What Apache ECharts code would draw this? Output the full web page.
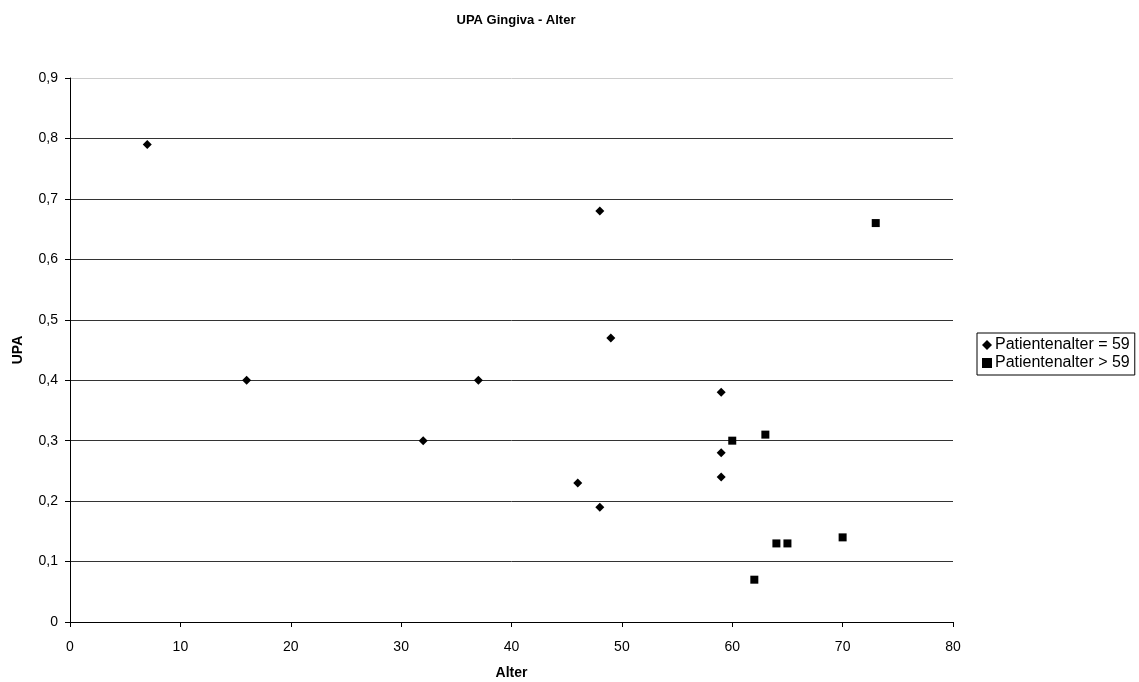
<!DOCTYPE html>
<html>
<head>
<meta charset="utf-8">
<script src="https://cdn.jsdelivr.net/npm/echarts@6/dist/echarts.min.js"></script>
<style>
  html, body { margin: 0; padding: 0; background: #fff; }
  #chart { width: 1139px; height: 682px; }
</style>
</head>
<body>
<div id="chart"></div>
<script>
var seriesNames = ['Patientenalter = 59', 'Patientenalter > 59'];
var ageUpTo59 = [7, 16, 32, 37, 46, 48, 48, 49, 59, 59, 59];
var upaUpTo59 = [0.79, 0.40, 0.30, 0.40, 0.23, 0.68, 0.19, 0.47, 0.38, 0.28, 0.24];
var ageOver59 = [60, 62, 63, 64, 65, 70, 73];
var upaOver59 = [0.30, 0.07, 0.31, 0.13, 0.13, 0.14, 0.66];

function pairs(xs, ys) {
  var out = [];
  for (var i = 0; i < xs.length; i++) out.push([xs[i], ys[i]]);
  return out;
}

var myChart = echarts.init(document.getElementById('chart'));
var font = 'Arial, "Liberation Sans", sans-serif';

// gridlines dark, the top one (0,9) light gray
var gridColors = ['#333', '#333', '#333', '#333', '#333', '#333', '#333', '#333', '#333', '#ccc'];

var option = {
  animation: false,
  textStyle: { fontFamily: font },
  title: {
    text: 'UPA Gingiva - Alter',
    left: 511,
    textAlign: 'center',
    top: 9,
    textStyle: { fontSize: 13, fontWeight: 'bold', color: '#000', fontFamily: font }
  },
  legend: {
    orient: 'vertical',
    left: 977,
    top: 333,
    padding: [4, 5, 4, 5],
    itemGap: 2,
    itemWidth: 10,
    itemHeight: 10,
    borderColor: '#000',
    borderWidth: 1,
    textStyle: { fontSize: 16, color: '#000', fontFamily: font, padding: [0, 0, 0, -2] },
    data: [
      { name: seriesNames[0], icon: 'diamond' },
      { name: seriesNames[1], icon: 'rect' }
    ]
  },
  grid: { left: 70, right: 186, top: 78, bottom: 60, outerBoundsMode: 'none', containLabel: false },
  xAxis: {
    type: 'value',
    min: 0, max: 80, interval: 10,
    name: 'Alter',
    nameLocation: 'middle',
    nameGap: 44,
    nameTextStyle: { fontWeight: 'bold', fontSize: 14, color: '#000' },
    axisLine: { lineStyle: { color: '#000' } },
    axisTick: { show: true, length: 5, lineStyle: { color: '#000' } },
    axisLabel: { color: '#000', fontSize: 14, margin: 18 },
    splitLine: { show: false }
  },
  yAxis: {
    type: 'value',
    min: 0, max: 0.9, interval: 0.1,
    name: 'UPA',
    nameLocation: 'middle',
    nameGap: 45,
    nameRotate: 90,
    nameTextStyle: { fontWeight: 'bold', fontSize: 14, color: '#000' },
    axisLine: { show: true, lineStyle: { color: '#000' } },
    axisTick: { show: true, length: 5, lineStyle: { color: '#000' } },
    axisLabel: {
      color: '#000', fontSize: 14, margin: 12,
      formatter: function (v) { return v === 0 ? '0' : v.toFixed(1).replace('.', ','); }
    },
    splitLine: {
      show: true,
      lineStyle: { color: gridColors }
    }
  },
  series: [
    {
      name: seriesNames[0],
      type: 'scatter',
      symbol: 'diamond',
      symbolSize: 9,
      itemStyle: { color: '#000', opacity: 1 },
      data: pairs(ageUpTo59, upaUpTo59)
    },
    {
      name: seriesNames[1],
      type: 'scatter',
      symbol: 'rect',
      symbolSize: 8,
      itemStyle: { color: '#000', opacity: 1 },
      data: pairs(ageOver59, upaOver59)
    }
  ]
};

myChart.setOption(option);
window.addEventListener('resize', function () {
  myChart.resize();
});
</script>
</body>
</html>
